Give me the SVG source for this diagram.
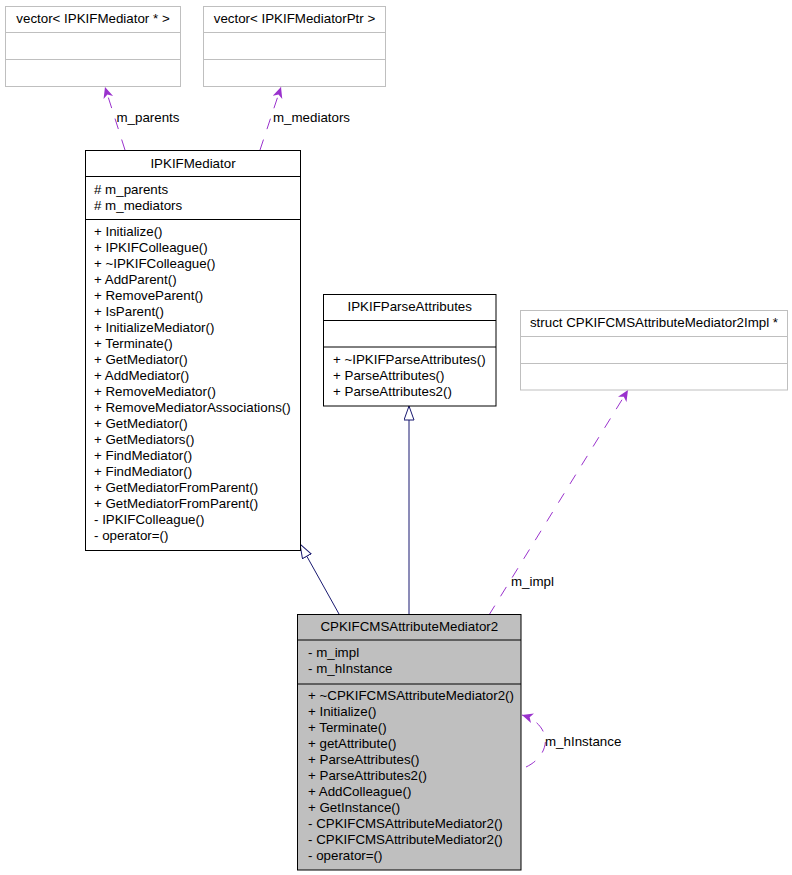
<svg xmlns="http://www.w3.org/2000/svg" width="792" height="875" viewBox="0 0 792 875">
<style>
text{font-family:"Liberation Sans",Arial,Helvetica,sans-serif;font-size:13.33px;fill:#000}
.mid{text-anchor:middle}
.box{fill:#fff;stroke:#000;stroke-width:1}
.gbox{fill:#fff;stroke:#bfbfbf;stroke-width:1}
.sel{fill:#bfbfbf;stroke:#000;stroke-width:1}
.sep{stroke:#000;stroke-width:1}
.gsep{stroke:#bfbfbf;stroke-width:1}
.use{fill:none;stroke:#9a32cd;stroke-width:1;stroke-dasharray:11,11}
.inh{fill:none;stroke:#191970;stroke-width:1}
</style>
<defs>
<marker id="vee" markerUnits="userSpaceOnUse" markerWidth="14" markerHeight="12" refX="11" refY="5" orient="auto">
<path d="M0,0 L11,5 L0,10 L3,5 z" fill="#9a32cd" stroke="none"/>
</marker>
<marker id="tri" markerUnits="userSpaceOnUse" markerWidth="16" markerHeight="12" refX="14.5" refY="5.5" orient="auto">
<path d="M0.5,0.5 L14.5,5.5 L0.5,10.5 z" fill="#fff" stroke="#191970" stroke-width="1"/>
</marker>
</defs>

<g id="connectors">
<path class="use" d="M125,150 L105,87" marker-end="url(#vee)"/>
<path class="use" d="M260,150 L281,87" marker-end="url(#vee)"/>
<path class="use" d="M489,615 L628,390" marker-end="url(#vee)"/>
<path class="use" d="M526,767 C541,760 547,747 545,737 C543,727 535,719 522,715" marker-end="url(#vee)"/>
<path class="inh" d="M339,614 L300,544" marker-end="url(#tri)"/>
<path class="inh" d="M409,614 L409,406" marker-end="url(#tri)"/>
<text x="116.5" y="122">m_parents</text>
<text x="273" y="122">m_mediators</text>
<text x="511" y="586">m_impl</text>
<text x="545" y="746">m_hInstance</text>
</g>

<g id="vector_IPKIFMediator_ptr">
<rect class="gbox" x="5.5" y="6.5" width="175" height="80"/>
<line class="gsep" x1="5.5" y1="32.5" x2="180.5" y2="32.5"/>
<line class="gsep" x1="5.5" y1="59.5" x2="180.5" y2="59.5"/>
<text class="mid" x="93" y="23">vector&lt; IPKIFMediator * &gt;</text>
</g>

<g id="vector_IPKIFMediatorPtr">
<rect class="gbox" x="203.5" y="6.5" width="182" height="80"/>
<line class="gsep" x1="203.5" y1="32.5" x2="385.5" y2="32.5"/>
<line class="gsep" x1="203.5" y1="59.5" x2="385.5" y2="59.5"/>
<text class="mid" x="294.5" y="23">vector&lt; IPKIFMediatorPtr &gt;</text>
</g>

<g id="IPKIFMediator">
<rect class="box" x="85.5" y="150.5" width="215" height="400"/>
<line class="sep" x1="85.5" y1="176.5" x2="300.5" y2="176.5"/>
<line class="sep" x1="85.5" y1="219.5" x2="300.5" y2="219.5"/>
<text class="mid" x="193" y="167.5">IPKIFMediator</text>
<text x="94" y="194"># m_parents</text>
<text x="94" y="210"># m_mediators</text>
<text x="94" y="235.5">+ Initialize()</text>
<text x="94" y="251.5">+ IPKIFColleague()</text>
<text x="94" y="267.5">+ ~IPKIFColleague()</text>
<text x="94" y="283.5">+ AddParent()</text>
<text x="94" y="299.5">+ RemoveParent()</text>
<text x="94" y="315.5">+ IsParent()</text>
<text x="94" y="331.5">+ InitializeMediator()</text>
<text x="94" y="347.5">+ Terminate()</text>
<text x="94" y="363.5">+ GetMediator()</text>
<text x="94" y="379.5">+ AddMediator()</text>
<text x="94" y="395.5">+ RemoveMediator()</text>
<text x="94" y="411.5">+ RemoveMediatorAssociations()</text>
<text x="94" y="427.5">+ GetMediator()</text>
<text x="94" y="443.5">+ GetMediators()</text>
<text x="94" y="459.5">+ FindMediator()</text>
<text x="94" y="475.5">+ FindMediator()</text>
<text x="94" y="491.5">+ GetMediatorFromParent()</text>
<text x="94" y="507.5">+ GetMediatorFromParent()</text>
<text x="94" y="523.5">- IPKIFColleague()</text>
<text x="94" y="539.5">- operator=()</text>
</g>

<g id="IPKIFParseAttributes">
<rect class="box" x="323.5" y="294.5" width="172.5" height="111.5"/>
<line class="sep" x1="323.5" y1="320.5" x2="496" y2="320.5"/>
<line class="sep" x1="323.5" y1="347" x2="496" y2="347"/>
<text class="mid" x="409.7" y="311">IPKIFParseAttributes</text>
<text x="333" y="364">+ ~IPKIFParseAttributes()</text>
<text x="333" y="380">+ ParseAttributes()</text>
<text x="333" y="396">+ ParseAttributes2()</text>
</g>

<g id="struct_CPKIFCMSAttributeMediator2Impl_ptr">
<rect class="gbox" x="520.5" y="310.5" width="267" height="79.5"/>
<line class="gsep" x1="520.5" y1="336.5" x2="787.5" y2="336.5"/>
<line class="gsep" x1="520.5" y1="363.5" x2="787.5" y2="363.5"/>
<text class="mid" x="654" y="327">struct CPKIFCMSAttributeMediator2Impl *</text>
</g>

<g id="CPKIFCMSAttributeMediator2">
<rect class="sel" x="297.5" y="614.5" width="223.5" height="255.5"/>
<line class="sep" x1="297.5" y1="640" x2="521" y2="640"/>
<line class="sep" x1="297.5" y1="684" x2="521" y2="684"/>
<text class="mid" x="409.3" y="631">CPKIFCMSAttributeMediator2</text>
<text x="308" y="657">- m_impl</text>
<text x="308" y="673">- m_hInstance</text>
<text x="308" y="700">+ ~CPKIFCMSAttributeMediator2()</text>
<text x="308" y="716">+ Initialize()</text>
<text x="308" y="732">+ Terminate()</text>
<text x="308" y="748">+ getAttribute()</text>
<text x="308" y="764">+ ParseAttributes()</text>
<text x="308" y="780">+ ParseAttributes2()</text>
<text x="308" y="796">+ AddColleague()</text>
<text x="308" y="812">+ GetInstance()</text>
<text x="308" y="828">- CPKIFCMSAttributeMediator2()</text>
<text x="308" y="844">- CPKIFCMSAttributeMediator2()</text>
<text x="308" y="860">- operator=()</text>
</g>
</svg>
